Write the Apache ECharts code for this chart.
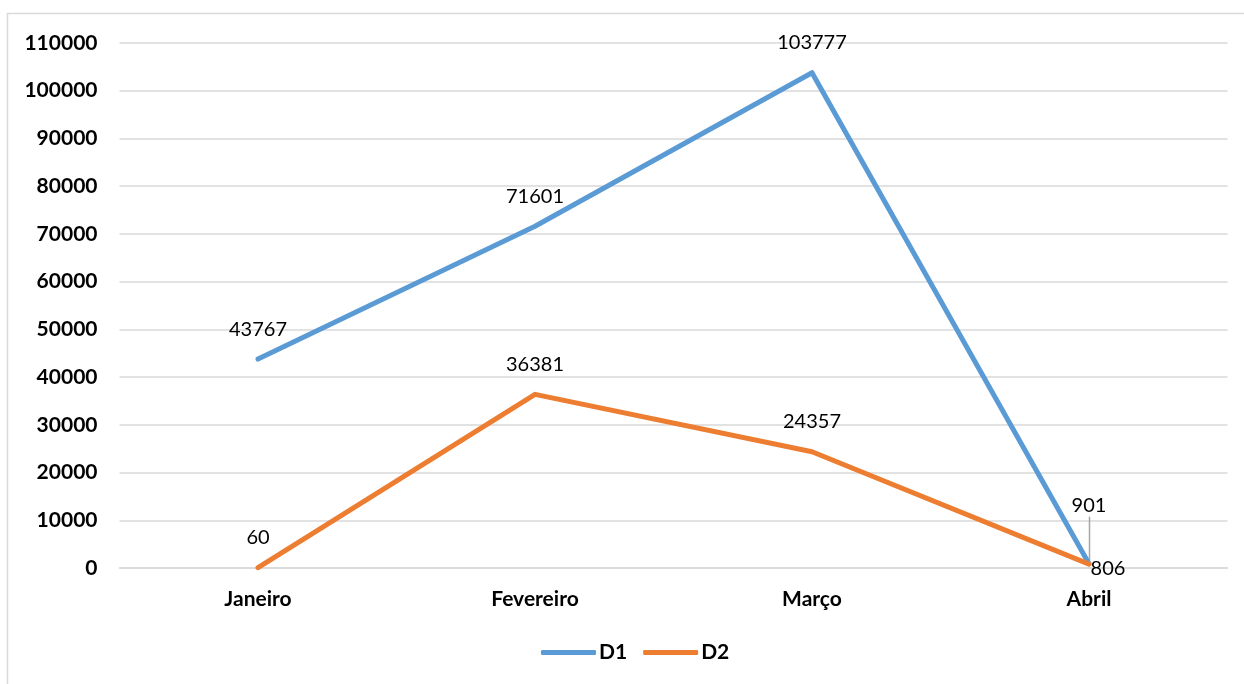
<!DOCTYPE html>
<html>
<head>
<meta charset="utf-8">
<script src="https://cdn.jsdelivr.net/npm/echarts@6/dist/echarts.min.js"></script>
<style>
  html, body { margin: 0; padding: 0; background: #fff; }
  #chart { width: 1244px; height: 684px; }
</style>
</head>
<body>
<div id="chart"></div>
<script>
// Monthly totals for the two series
const months = ['Janeiro', 'Fevereiro', 'Março', 'Abril'];
const d1 = [43767, 71601, 103777, 901];
const d2 = [60, 36381, 24357, 806];
const yMin = 0;
const yMax = 110000;
const yStep = 10000;

const FONT = 'Lato, "Open Sans", sans-serif';
const chart = echarts.init(document.getElementById('chart'), null, { renderer: 'canvas' });

const frame = {
  type: 'rect',
  shape: { x: 7.5, y: 13.5, width: 1300, height: 720 },
  style: { fill: 'none', stroke: '#d9d9d9', lineWidth: 1.5 },
  silent: true,
  z: -1
};

chart.setOption({
  animation: false,
  backgroundColor: '#ffffff',
  graphic: [frame],
  grid: { left: 119.5, right: 16.5, top: 43, bottom: 116, containLabel: false },
  legend: {
    data: ['D1', 'D2'],
    left: 541,
    top: 642,
    padding: 0,
    icon: 'roundRect',
    itemWidth: 55,
    itemHeight: 5,
    itemGap: 16,
    textStyle: { fontFamily: FONT, fontSize: 21, fontWeight: 'bold', color: '#000', padding: [0, 0, 0, -2] }
  },
  xAxis: {
    type: 'category',
    data: months,
    boundaryGap: true,
    axisLine: { show: true, lineStyle: { color: '#d9d9d9', width: 1.5 } },
    axisTick: { show: false },
    axisLabel: { fontFamily: FONT, fontSize: 21, fontWeight: 'bold', color: '#000', margin: 21 }
  },
  yAxis: {
    type: 'value',
    min: yMin,
    max: yMax,
    interval: yStep,
    axisLine: { show: false },
    axisTick: { show: false },
    splitLine: { lineStyle: { color: '#d9d9d9', width: 1.5 } },
    axisLabel: {
      fontFamily: FONT, fontSize: 21, fontWeight: 'bold', color: '#000', margin: 22,
      formatter: function (v) { return String(v); }
    }
  },
  series: [
    {
      name: 'D1',
      type: 'line',
      data: d1,
      symbol: 'circle',
      symbolSize: 0,
      lineStyle: { color: '#5b9bd5', width: 5, cap: 'round', join: 'round' },
      itemStyle: { color: '#5b9bd5' },
      label: {
        show: true, position: 'top', distance: 20,
        fontFamily: FONT, fontSize: 20, color: '#000'
      },
      labelLayout: function (p) {
        if (p.dataIndex === 3) {
          return { dy: -28 };
        }
        return {};
      },
      z: 3
    },
    {
      name: 'D2',
      type: 'line',
      data: d2,
      symbol: 'circle',
      symbolSize: 0,
      lineStyle: { color: '#ed7d31', width: 5, cap: 'round', join: 'round' },
      itemStyle: { color: '#ed7d31' },
      label: {
        show: true, position: 'top', distance: 20,
        fontFamily: FONT, fontSize: 20, color: '#000'
      },
      labelLayout: function (p) {
        if (p.dataIndex === 3) {
          return { dx: 19, dy: 34 };
        }
        return {};
      },
      z: 4
    }
  ]
});

// Leader line for the lifted D1 "Abril" label, placed from the chart's own scales
const anchor = chart.convertToPixel({ seriesIndex: 0 }, [months.length - 1, d1[d1.length - 1]]);
const lx = Math.round(anchor[0]) + 0.5;
chart.setOption({
  graphic: [frame, {
    type: 'line',
    shape: { x1: lx, y1: anchor[1] - 47, x2: lx, y2: anchor[1] - 3 },
    style: { stroke: '#a6a6a6', lineWidth: 1.5 },
    silent: true,
    z: 2
  }]
});
</script>
</body>
</html>
